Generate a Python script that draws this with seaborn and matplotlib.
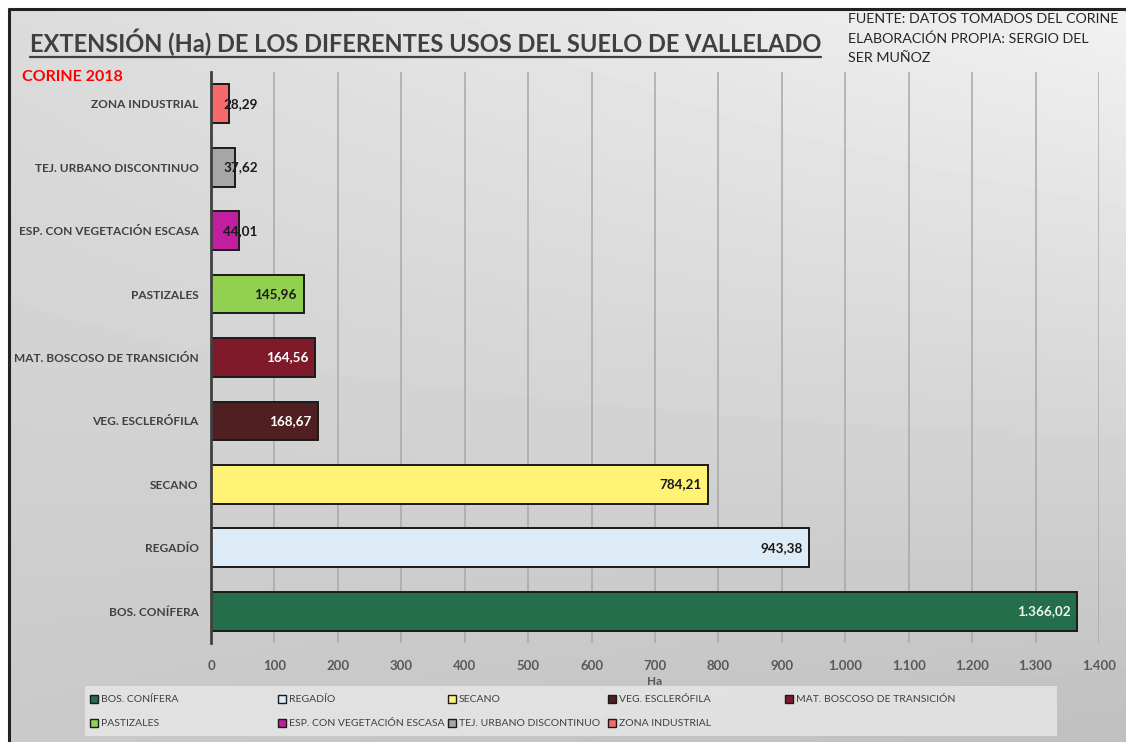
import numpy as np
import pandas as pd
import seaborn as sns
import matplotlib.pyplot as plt
from matplotlib.patches import Rectangle
from matplotlib.lines import Line2D

categorias = ["ZONA INDUSTRIAL", "TEJ. URBANO DISCONTINUO", "ESP. CON VEGETACIÓN ESCASA",
              "PASTIZALES", "MAT. BOSCOSO DE TRANSICIÓN", "VEG. ESCLERÓFILA",
              "SECANO", "REGADÍO", "BOS. CONÍFERA"]
hectareas = [28.29, 37.62, 44.01, 145.96, 164.56, 168.67, 784.21, 943.38, 1366.02]
colores = ["#F8696B", "#A6A6A6", "#C0209F", "#92D050", "#7F1A2B",
           "#4F1F22", "#FFF275", "#DDEBF7", "#256E4B"]
color_etiqueta = ["#1a1a1a", "#1a1a1a", "#1a1a1a", "#1a1a1a", "#ffffff",
                  "#ffffff", "#1a1a1a", "#1a1a1a", "#eef6ee"]
orden_leyenda = ["BOS. CONÍFERA", "REGADÍO", "SECANO", "VEG. ESCLERÓFILA",
                 "MAT. BOSCOSO DE TRANSICIÓN", "PASTIZALES", "ESP. CON VEGETACIÓN ESCASA",
                 "TEJ. URBANO DISCONTINUO", "ZONA INDUSTRIAL"]
ticks_x = list(range(0, 1401, 100))

df = pd.DataFrame({"uso": categorias, "ha": hectareas})
paleta = dict(zip(categorias, colores))


def fmt_es(v, dec=2):
    s = f"{v:,.{dec}f}"
    return s.replace(",", "X").replace(".", ",").replace("X", ".")


sns.set_style("white")
FONT = ["Lato", "DejaVu Sans"]
plt.rcParams["font.family"] = FONT

W, H = 1126, 742
fig = plt.figure(figsize=(W / 100, H / 100), dpi=100)

# fondo degradado
bg = fig.add_axes([0, 0, 1, 1], zorder=-10)
yy, xx = np.mgrid[0:1:200j, 0:1:300j]
tl, tr, bl, br = 0.86, 0.95, 0.79, 0.75
grad = (tl * (1 - xx) * (1 - yy) + tr * xx * (1 - yy) + bl * (1 - xx) * yy + br * xx * yy)
bg.imshow(grad, cmap="gray", vmin=0, vmax=1, aspect="auto", extent=[0, 1, 0, 1], origin="upper")
bg.add_patch(Rectangle((0, 1 - 9 / H), 1, 9 / H, color="white", transform=bg.transAxes))
bg.add_patch(Rectangle((0, 0), 9 / W, 1, color="white", transform=bg.transAxes))
bg.plot([9 / W, 1], [1 - 9 / H, 1 - 9 / H], color="#222222", lw=2.2)
bg.plot([9 / W, 9 / W], [0, 1 - 9 / H], color="#222222", lw=2.2)
bg.set_xlim(0, 1)
bg.set_ylim(0, 1)
bg.axis("off")

ax = fig.add_axes([211 / W, 1 - 643 / H, (1099 - 211) / W, (643 - 72) / H])
ax.patch.set_alpha(0)
sns.barplot(data=df, y="uso", x="ha", hue="uso", palette=paleta, order=categorias,
            hue_order=categorias, dodge=False, legend=False, width=0.61,
            edgecolor="#1a1a1a", linewidth=1.4, saturation=1, ax=ax, zorder=3)

ax.set_xlim(0, 1400)
ax.set_xticks(ticks_x)
ax.set_xticklabels([fmt_es(t, 0) for t in ticks_x], fontsize=9.5, fontweight="bold", color="#595959")
ax.tick_params(axis="x", length=0, pad=12)
ax.tick_params(axis="y", length=0, pad=9)
ax.set_yticks(range(len(categorias)))
ax.set_yticklabels(categorias, fontsize=8.6, fontweight="bold", color="#404040")
ax.grid(axis="x", color="#a8a8a8", lw=1.1, zorder=0)
for s in ["top", "right", "bottom"]:
    ax.spines[s].set_visible(False)
ax.spines["left"].set_color("#404040")
ax.spines["left"].set_linewidth(2)
ax.spines["left"].set_zorder(5)
ax.set_xlabel("Ha", fontsize=8.5, fontweight="bold", color="#595959", labelpad=3)
ax.set_ylabel("")

for i, (v, c) in enumerate(zip(hectareas, color_etiqueta)):
    if v < 100:
        ax.text(19, i, fmt_es(v), ha="left", va="center", fontsize=9.7,
                fontweight="bold", color=c, zorder=6)
    else:
        ax.text(v - 11, i, fmt_es(v), ha="right", va="center", fontsize=9.7,
                fontweight="bold", color=c, zorder=6)

# titulo subrayado
t = fig.text(30 / W, 1 - 42 / H, "EXTENSIÓN (Ha) DE LOS DIFERENTES USOS DEL SUELO DE VALLELADO",
             fontsize=17, fontweight="bold", color="#404040", ha="left", va="center")
fig.canvas.draw()
bb = t.get_window_extent().transformed(fig.transFigure.inverted())
fig.add_artist(Line2D([bb.x0, bb.x1], [bb.y0 - 1 / H, bb.y0 - 1 / H], color="#404040", lw=1.6))

fig.text(22 / W, 1 - 77 / H, "CORINE 2018", fontsize=11.5, fontweight="bold", color="#ff0000",
         ha="left", va="center")
fig.text(848 / W, 1 - 13 / H, "FUENTE: DATOS TOMADOS DEL CORINE\nELABORACIÓN PROPIA: SERGIO DEL\nSER MUÑOZ",
         fontsize=10.3, color="#262626", ha="left", va="top", linespacing=1.7)

# leyenda
fig.patches.append(Rectangle((85 / W, 1 - 736 / H), (1057 - 85) / W, 50 / H,
                             transform=fig.transFigure, facecolor="#e6e6e6", edgecolor="none",
                             alpha=0.85, zorder=1))
cols_x = [90, 278, 448, 608, 785]
rows_y = [699, 723]
for k, nombre in enumerate(orden_leyenda):
    x = cols_x[k % 5]
    y = rows_y[k // 5]
    fig.patches.append(Rectangle((x / W, 1 - (y + 4) / H), 8 / W, 8 / H, transform=fig.transFigure,
                                 facecolor=paleta[nombre], edgecolor="#1a1a1a", lw=1, zorder=2))
    fig.text((x + 11) / W, 1 - y / H, nombre, fontsize=7.5, color="#404040",
             ha="left", va="center", zorder=2)

fig.savefig("out.png", dpi=100)
